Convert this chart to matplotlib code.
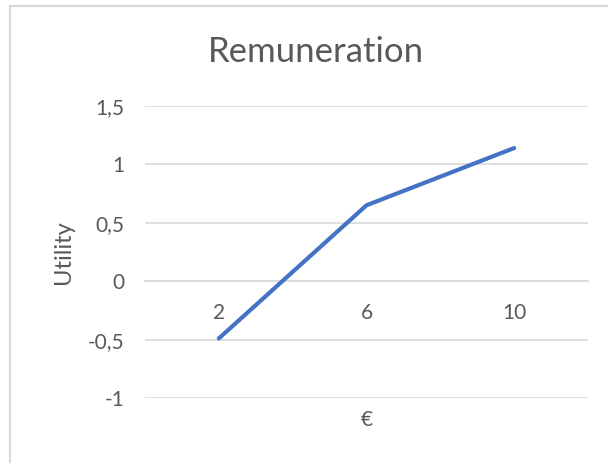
import matplotlib.pyplot as plt
from matplotlib.lines import Line2D

categories = ["2", "6", "10"]
utility = [-0.49, 0.65, 1.14]
y_ticks = [-1, -0.5, 0, 0.5, 1, 1.5]
y_tick_labels = ["-1", "-0,5", "0", "0,5", "1", "1,5"]

text_color = "#595959"
grid_color = "#D9D9D9"
plt.rcParams['font.family'] = ['Lato', 'DejaVu Sans']

fig = plt.figure(figsize=(6.08, 4.63), dpi=100)
ax = fig.add_axes([145 / 608, 1 - 398 / 463, 443 / 608, 292 / 463])

x = list(range(len(categories)))
ax.plot(x, utility, color="#4472C4", linewidth=3.0, solid_capstyle="round", zorder=3)

ax.set_xlim(-0.5, len(categories) - 0.5)
ax.set_ylim(-1, 1.5)
ax.set_yticks(y_ticks)
ax.set_yticklabels(y_tick_labels)
ax.set_xticks(x)
ax.set_xticklabels(categories)

ax.grid(axis="y", color=grid_color, linewidth=1.2, zorder=0)
for s in ["top", "right", "left"]:
    ax.spines[s].set_visible(False)
ax.spines["bottom"].set_position(("data", 0))
ax.spines["bottom"].set_color(grid_color)
ax.spines["bottom"].set_linewidth(1.2)

ax.tick_params(axis="y", length=0, pad=15, labelsize=15, labelcolor=text_color)
ax.tick_params(axis="x", length=0, pad=16, labelsize=15, labelcolor=text_color)

ax.set_ylabel("Utility", fontsize=17, color=text_color, va="center")
ax.yaxis.set_label_coords((64 - 145) / 443, 0.5)
ax.set_xlabel("€", fontsize=15, color=text_color, va="center")
ax.xaxis.set_label_coords(0.5, (398 - 420) / 292)

fig.text(316 / 608, 1 - 52 / 463, "Remuneration", ha="center", va="center",
         fontsize=25, color=text_color)

# chart border (top and left edges visible in the crop)
fig.add_artist(Line2D([10 / 608, 10 / 608], [0, 1 - 6 / 463], transform=fig.transFigure,
                      color=grid_color, linewidth=1.5))
fig.add_artist(Line2D([10 / 608, 1], [1 - 6 / 463, 1 - 6 / 463], transform=fig.transFigure,
                      color=grid_color, linewidth=1.5))

fig.savefig("out.png", dpi=100)
